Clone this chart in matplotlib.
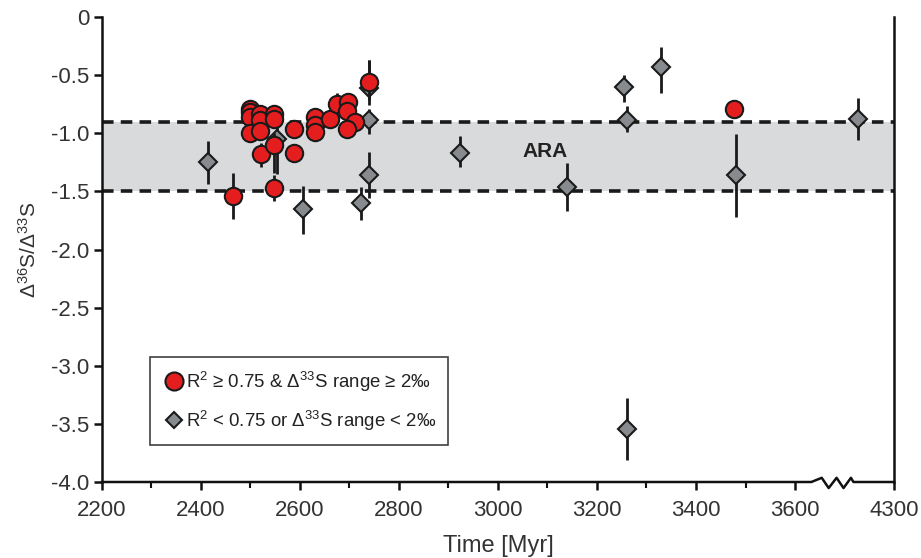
import numpy as np
import matplotlib
matplotlib.use("Agg")
import matplotlib.pyplot as plt
from matplotlib.lines import Line2D
from matplotlib.ticker import FixedLocator

plt.rcParams['font.family'] = ['Liberation Sans', 'DejaVu Sans']
plt.rcParams['mathtext.fontset'] = 'custom'
plt.rcParams['mathtext.rm'] = 'Liberation Sans'
plt.rcParams['mathtext.it'] = 'Liberation Sans:italic'
plt.rcParams['mathtext.bf'] = 'Liberation Sans:bold'

# R2 >= 0.75 & D33S range >= 2 permil
red_age = np.array([2500, 2500, 2500, 2500, 2520, 2520, 2520, 2522, 2548, 2548, 2548, 2548, 2465,
                    2587, 2587, 2631, 2631, 2631, 2661, 2675, 2698, 2695, 2712, 2695, 2739, 3476])
red_val = np.array([-0.79, -0.82, -0.86, -1.00, -0.83, -0.89, -0.98, -1.18, -0.83, -0.88, -1.10, -1.47, -1.54,
                    -0.96, -1.17, -0.86, -0.93, -0.99, -0.88, -0.75, -0.73, -0.81, -0.90, -0.96, -0.56, -0.79])
red_lo = np.array([0.05, 0.05, 0.05, 0.06, 0.05, 0.05, 0.06, 0.11, 0.05, 0.06, 0.24, 0.11, 0.20,
                   0.06, 0.06, 0.06, 0.06, 0.07, 0.05, 0.05, 0.05, 0.05, 0.05, 0.06, 0.15, 0.02])
red_hi = np.array([0.05, 0.05, 0.05, 0.06, 0.05, 0.05, 0.06, 0.10, 0.05, 0.06, 0.10, 0.11, 0.20,
                   0.06, 0.06, 0.06, 0.06, 0.07, 0.05, 0.10, 0.05, 0.05, 0.05, 0.06, 0.19, 0.02])

# R2 < 0.75 or D33S range < 2 permil
gray_age = np.array([2414, 2554, 2606, 2724, 2740, 2740, 2740, 2924, 3140, 3255, 3261, 3260, 3330, 3480, 4228])
gray_val = np.array([-1.25, -1.05, -1.65, -1.60, -0.61, -0.89, -1.36, -1.17, -1.46, -0.605, -0.886, -3.54,
                     -0.43, -1.36, -0.88])
gray_lo = np.array([0.19, 0.30, 0.22, 0.15, 0.15, 0.12, 0.20, 0.12, 0.21, 0.13, 0.10, 0.27, 0.22, 0.36, 0.18])
gray_hi = np.array([0.18, 0.10, 0.20, 0.14, 0.24, 0.10, 0.20, 0.15, 0.20, 0.11, 0.12, 0.26, 0.17, 0.35, 0.18])

ara_lo, ara_hi = -1.5, -0.9

x_ticks = [2200, 2400, 2600, 2800, 3000, 3200, 3400, 3600, 4300]
y_ticks = [-4.0, -3.5, -3.0, -2.5, -2.0, -1.5, -1.0, -0.5, 0]
y_ticklabels = ['-4.0', '-3.5', '-3.0', '-2.5', '-2.0', '-1.5', '-1.0', '-0.5', '0']


def to_axis(a):
    # axis is broken after 3600: 4300 sits where 3800 would be
    a = np.asarray(a, dtype=float)
    return np.where(a > 3650, a - 500, a)


fig = plt.figure(figsize=(9.21, 5.58), dpi=100)
ax = fig.add_axes([0.1107, 0.1362, 0.8600, 0.8333])

ax.set_xlim(2200, 3800)
ax.set_ylim(-4.0, 0)

ax.axhspan(ara_lo, ara_hi, color='#d9dadb', lw=0, zorder=0)
for yv in (ara_hi, ara_lo):
    ax.axhline(yv, color='#1a1a1a', lw=2.6, ls=(0, (3.2, 2.0)), zorder=1)
ax.text(3095, -1.16, 'ARA', fontsize=15, fontweight='bold', color='#222222',
        ha='center', va='center', zorder=2)

ax.errorbar(to_axis(gray_age), gray_val, yerr=[gray_lo, gray_hi], fmt='D', ms=9.5,
            mfc='#878b8f', mec='#1a1a1a', mew=1.5, ecolor='#1a1a1a', elinewidth=2,
            capsize=0, zorder=3)
ax.errorbar(to_axis(red_age), red_val, yerr=[red_lo, red_hi], fmt='o', ms=12.5,
            mfc='#e41e1e', mec='#1a1a1a', mew=1.5, ecolor='#1a1a1a', elinewidth=2,
            capsize=0, zorder=4)

# spines
ax.spines['top'].set_visible(False)
ax.spines['bottom'].set_visible(False)
for s in ('left', 'right'):
    ax.spines[s].set_linewidth(1.8)
    ax.spines[s].set_color('#111111')

# bottom axis line with break zigzag
trans = ax.get_xaxis_transform()
zx = [2200, 3633, 3654, 3668, 3684, 3698, 3713, 3718, 3800]
zy = [0, 0, 0.009, -0.013, 0.009, -0.013, 0.009, 0, 0]
ax.plot(zx, zy, color='#111111', lw=1.8, transform=trans, clip_on=False, zorder=5)

ax.xaxis.set_major_locator(FixedLocator(to_axis(x_ticks)))
ax.set_xticklabels([str(t) for t in x_ticks])
ax.xaxis.set_minor_locator(FixedLocator(np.arange(2300, 3600, 200)))
ax.set_yticks(y_ticks)
ax.set_yticklabels(y_ticklabels)

ax.tick_params(axis='both', which='major', direction='out', length=6, width=1.8,
               labelsize=16, colors='#111111', labelcolor='#333333', pad=3)
ax.tick_params(axis='x', which='major', pad=7)
ax.tick_params(axis='x', which='minor', direction='out', length=4, width=1.5, colors='#111111')
ax.tick_params(axis='y', right=False)

ax.set_xlabel('Time [Myr]', fontsize=17, color='#333333', labelpad=10)
ax.set_ylabel(r'$\Delta^{36}$S/$\Delta^{33}$S', fontsize=15, color='#333333', labelpad=8)

handles = [
    Line2D([], [], marker='o', ls='none', ms=13, mfc='#e41e1e', mec='#1a1a1a', mew=1.5),
    Line2D([], [], marker='D', ls='none', ms=8.5, mfc='#878b8f', mec='#1a1a1a', mew=1.5),
]
labels = [r'R$^2$ ≥ 0.75 & Δ$^{33}$S range ≥ 2‰', r'R$^2$ < 0.75 or Δ$^{33}$S range < 2‰']
leg = ax.legend(handles, labels, loc='upper left', bbox_to_anchor=(0.061, 0.268),
                fontsize=13.4, frameon=True, fancybox=False, handletextpad=0.05,
                handlelength=1.2, labelspacing=0.8, borderpad=0.65, borderaxespad=0)
leg.get_frame().set_edgecolor('#111111')
leg.get_frame().set_linewidth(1.2)
for t in leg.get_texts():
    t.set_color('#222222')

fig.savefig('out.png', dpi=100)
